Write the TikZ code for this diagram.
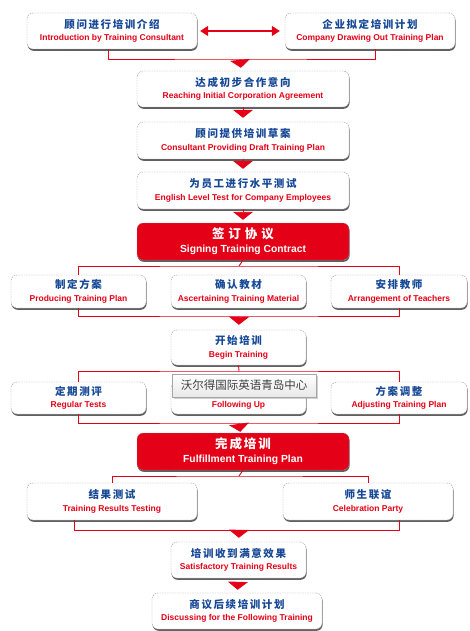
\documentclass[tikz,border=0pt]{standalone}
\usepackage{fontspec}
\newfontfamily\zhfont[LetterSpace=15]{Noto Sans CJK SC}
\newfontfamily\tipfont{Noto Sans CJK SC}
\newfontfamily\enfont{Liberation Sans}
\usetikzlibrary{arrows.meta,shadows}

\definecolor{flowred}{RGB}{228,0,22}
\definecolor{zhblue}{RGB}{22,72,150}

% two-line labels: chinese above, english below
\newcommand{\steptext}[2]{{\zhfont\bfseries\fontsize{10.5}{12}\selectfont #1}\\
  {\enfont\bfseries\fontsize{8.5}{8}\selectfont\color{flowred}#2}}
\newcommand{\keytext}[2]{{\zhfont\bfseries\fontsize{12.5}{13}\selectfont #1}\\
  {\enfont\bfseries\fontsize{10.3}{9}\selectfont #2}}

\begin{document}
\begin{tikzpicture}[x=1pt, y=-1pt,
    stepbox/.style={draw=gray!80, dash pattern=on 1.5pt off 1pt, fill=white,
      rounded corners=6pt, text=zhblue, align=center, inner sep=0pt,
      font=\fontsize{8}{12.5}\selectfont,
      drop shadow={shadow xshift=0.6pt, shadow yshift=-1.8pt, fill=gray!75!black, opacity=1}},
    keybox/.style={stepbox, fill=flowred, text=white, font=\fontsize{8}{14}\selectfont},
    link/.style={flowred, line width=0.9pt},
    flow/.style={link, -{Triangle[width=20pt, length=8pt]}},
    tipbox/.style={draw=gray!70, top color=white, bottom color=gray!18, inner sep=0pt,
      minimum width=144pt, minimum height=23pt, text=black!75,
      font=\tipfont\fontsize{11.5}{12}\selectfont,
      drop shadow={shadow xshift=2pt, shadow yshift=-2pt, fill=gray!60, opacity=0.6}}]
  \useasboundingbox (0,0) rectangle (469,631);

  \node[stepbox, minimum width=170pt, minimum height=36pt] (intro) at (112,31)
    {\steptext{顾问进行培训介绍}{Introduction by Training Consultant}};
  \node[stepbox, minimum width=170pt, minimum height=36pt] (plan) at (370,31)
    {\steptext{企业拟定培训计划}{Company Drawing Out Training Plan}};
  \node[stepbox, minimum width=212pt, minimum height=36pt] (agree) at (243,89)
    {\steptext{达成初步合作意向}{Reaching Initial Corporation Agreement}};
  \node[stepbox, minimum width=212pt, minimum height=37pt] (draft) at (243,140.5)
    {\steptext{顾问提供培训草案}{Consultant Providing Draft Training Plan}};
  \node[stepbox, minimum width=212pt, minimum height=37pt] (test) at (243,190.5)
    {\steptext{为员工进行水平测试}{English Level Test for Company Employees}};
  \node[keybox, minimum width=212pt, minimum height=37pt] (sign) at (243,241.5)
    {\keytext{签\hspace{4pt}订\hspace{4pt}协\hspace{4pt}议}{Signing Training Contract}};

  \node[stepbox, minimum width=135pt, minimum height=33pt] (produce) at (78.5,291.5)
    {\steptext{制定方案}{Producing Training Plan}};
  \node[stepbox, minimum width=135pt, minimum height=33pt] (material) at (238.5,291.5)
    {\steptext{确认教材}{Ascertaining Training Material}};
  \node[stepbox, minimum width=136pt, minimum height=33pt] (teachers) at (399,291.5)
    {\steptext{安排教师}{Arrangement of Teachers}};

  \node[stepbox, minimum width=135pt, minimum height=35pt] (begin) at (238.5,347.5)
    {\steptext{开始培训}{Begin Training}};

  \node[stepbox, minimum width=135pt, minimum height=32pt] (regular) at (78.5,398)
    {\steptext{定期测评}{Regular Tests}};
  \node[stepbox, minimum width=135pt, minimum height=32pt] (follow) at (238.5,398)
    {\steptext{跟踪服务}{Following Up}};
  \node[stepbox, minimum width=136pt, minimum height=32pt] (adjust) at (399,398)
    {\steptext{方案调整}{Adjusting Training Plan}};

  \node[keybox, minimum width=212pt, minimum height=37pt] (fulfil) at (243,451.5)
    {\keytext{完成培训}{Fulfillment Training Plan}};
  \node[stepbox, minimum width=170pt, minimum height=37pt] (results) at (112,501.5)
    {\steptext{结果测试}{Training Results Testing}};
  \node[stepbox, minimum width=170pt, minimum height=37pt] (party) at (368,501.5)
    {\steptext{师生联谊}{Celebration Party}};
  \node[stepbox, minimum width=135pt, minimum height=36pt] (satisf) at (238.5,560)
    {\steptext{培训收到满意效果}{Satisfactory Training Results}};
  \node[stepbox, minimum width=170pt, minimum height=36pt] (discuss) at (237,611)
    {\steptext{商议后续培训计划}{Discussing for the Following Training}};

  % junctions
  \coordinate (j1) at (240,59);
  \coordinate (j2) at (239,266);
  \coordinate (j3) at (239,316);
  \coordinate (j4) at (239,371);
  \coordinate (j5) at (239,423);
  \coordinate (j6) at (239,476);
  \coordinate (j7) at (239,530);
  \coordinate (l7) at (74,530);
  \coordinate (r7) at (399,530);

  \draw[link, line width=1.4pt, {Triangle[width=10pt, length=8pt]}-{Triangle[width=10pt, length=8pt]},
    shorten <=3pt, shorten >=5pt] (intro) -- (plan);
  \draw[link] (intro.south -| 108,0) |- (j1) -| (plan.south -| 375,0);
  \draw[flow, shorten >=3pt] (j1) -- (agree);
  \draw[flow, shorten >=4pt] (agree) -- (draft);
  \draw[flow, shorten >=3pt] (draft) -- (test);
  \draw[flow, shorten >=3pt] (test) -- (sign);

  \draw[link] (sign.south) -- (j2);
  \draw[link] (produce.north) |- (j2) -| (teachers.north);
  \draw[link] (produce.south) |- (j3) -| (teachers.south);
  \draw[flow, shorten >=5pt] (j3) -- (begin);

  \draw[link] (begin.south) -- (j4);
  \draw[link] (regular.north) |- (j4) -| (adjust.north);
  \draw[link] (regular.south) |- (j5) -| (adjust.south);
  \draw[flow, shorten >=1pt] (j5) -- (fulfil);

  \draw[link] (fulfil.south) -- (j6);
  \draw[link] (results.north) |- (j6) -| (party.north);
  \draw[link] (results.south -| l7) -- (l7) -- (r7) -- (party.south -| r7);
  \draw[flow, shorten >=4pt] (j7) -- (satisf);
  \draw[flow, shorten <=4pt, shorten >=3pt] (satisf) -- (discuss);

  % tooltip over the middle box
  \node[tipbox] (tip) at (244,385.5) {沃尔得国际英语青岛中心};
\end{tikzpicture}
\end{document}
